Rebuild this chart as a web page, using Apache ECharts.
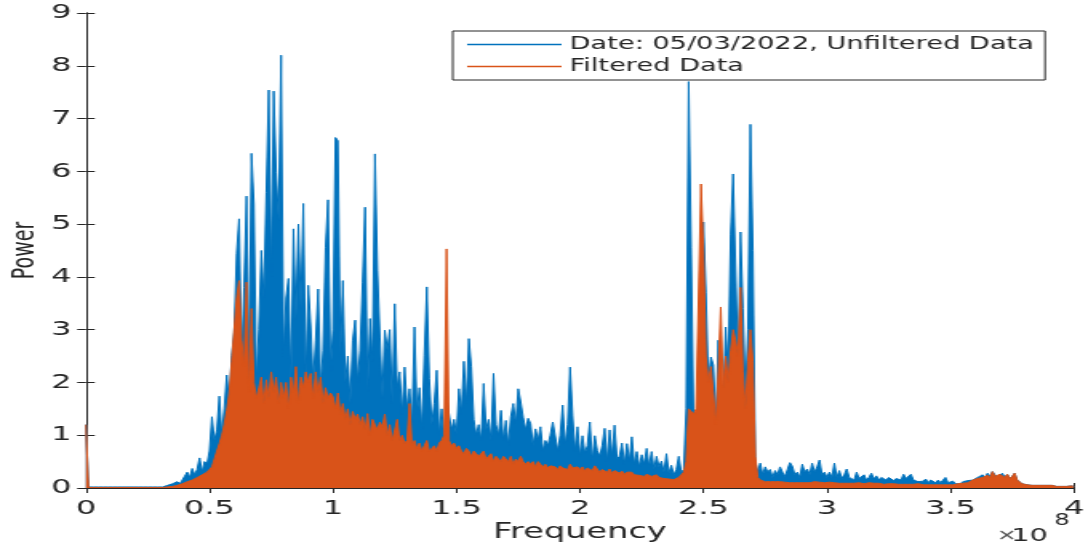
<!DOCTYPE html>
<html>
<head>
<meta charset="utf-8">
<script src="https://cdn.jsdelivr.net/npm/echarts@6/dist/echarts.min.js"></script>
<style>
  html, body { margin: 0; padding: 0; background: #fff; overflow: hidden; }
  /* the figure is laid out narrow and widened horizontally, like the exported plot */
  #chart { width: 678px; height: 553px; transform: scaleX(1.6); transform-origin: 0 0; }
</style>
</head>
<body>
<div id="chart"></div>
<script>
// Power spectrum sampled every 1 MHz from 0 to 400 MHz (401 bins, 10 bins per row)
const FREQ_STEP_HZ = 1e6;

const unfilteredPower = [
  1.2, 0.02, 0.01, 0.02, 0.01, 0.02, 0.01, 0.02, 0.01, 0.02,
  0.01, 0.02, 0.01, 0.02, 0.01, 0.02, 0.01, 0.02, 0.01, 0.02,
  0.01, 0.02, 0.01, 0.02, 0.01, 0.02, 0.01, 0.02, 0.01, 0.02,
  0.02, 0.02, 0.03, 0.05, 0.04, 0.08, 0.06, 0.12, 0.08, 0.15,
  0.12, 0.3, 0.2, 0.37, 0.25, 0.35, 0.57, 0.3, 0.5, 0.45,
  0.7, 1.35, 0.9, 1.1, 1.74, 1.0, 1.5, 2.14, 1.6, 2.51,
  2.95, 4.44, 5.1, 2.4, 3.8, 5.53, 2.2, 6.34, 5.38, 2.0,
  3.0, 4.5, 3.6, 5.6, 7.54, 4.0, 7.52, 5.98, 5.07, 8.2,
  2.5, 3.6, 3.97, 1.9, 4.91, 3.2, 5.0, 3.4, 5.39, 2.0,
  3.84, 3.05, 2.0, 2.8, 3.77, 1.9, 2.6, 4.56, 5.46, 2.2,
  3.0, 6.64, 6.58, 2.5, 3.93, 2.0, 2.5, 1.6, 2.8, 3.18,
  2.0, 2.6, 3.9, 5.32, 1.8, 3.21, 2.4, 6.33, 4.12, 2.86,
  1.7, 2.99, 2.61, 3.0, 1.6, 3.49, 1.9, 2.2, 1.4, 2.29,
  1.5, 1.88, 1.2, 3.05, 1.4, 1.9, 1.1, 2.51, 3.81, 2.07,
  1.2, 1.6, 2.23, 1.0, 1.5, 0.9, 1.69, 1.72, 1.1, 1.3,
  1.0, 1.88, 1.4, 2.4, 1.6, 2.83, 2.3, 1.3, 1.0, 1.2,
  0.9, 1.98, 1.1, 1.3, 0.9, 2.17, 1.2, 1.0, 1.47, 0.9,
  1.28, 0.8, 1.35, 1.6, 1.2, 1.88, 1.63, 1.34, 1.1, 1.32,
  1.22, 0.8, 1.12, 0.9, 1.16, 0.7, 0.9, 0.8, 1.0, 1.25,
  1.22, 0.7, 1.0, 1.57, 0.8, 1.2, 2.29, 1.38, 0.7, 1.16,
  0.6, 0.99, 0.66, 0.8, 1.25, 0.5, 0.99, 0.71, 0.6, 0.8,
  1.13, 0.5, 1.1, 0.6, 1.19, 0.55, 0.6, 0.85, 0.45, 0.84,
  0.5, 0.97, 0.45, 0.69, 0.4, 0.63, 0.45, 0.75, 0.4, 0.69,
  0.35, 0.6, 0.4, 0.51, 0.3, 0.65, 0.28, 0.43, 0.25, 0.35,
  0.6, 0.3, 0.35, 1.5, 7.7, 4.56, 1.3, 1.2, 1.5, 3.62,
  5.04, 3.71, 2.0, 2.48, 2.33, 1.16, 2.8, 1.8, 1.6, 3.05,
  2.2, 4.81, 5.95, 5.92, 2.3, 4.85, 3.4, 1.8, 3.0, 6.89,
  4.5, 0.5, 0.3, 0.47, 0.25, 0.4, 0.3, 0.35, 0.2, 0.33,
  0.25, 0.4, 0.3, 0.22, 0.35, 0.48, 0.41, 0.25, 0.3, 0.2,
  0.45, 0.3, 0.36, 0.25, 0.47, 0.3, 0.4, 0.53, 0.25, 0.3,
  0.2, 0.3, 0.2, 0.47, 0.2, 0.33, 0.18, 0.25, 0.36, 0.2,
  0.23, 0.15, 0.3, 0.18, 0.2, 0.25, 0.15, 0.2, 0.28, 0.17,
  0.23, 0.15, 0.2, 0.22, 0.15, 0.2, 0.23, 0.14, 0.18, 0.2,
  0.15, 0.26, 0.18, 0.2, 0.26, 0.15, 0.17, 0.12, 0.15, 0.13,
  0.17, 0.1, 0.15, 0.12, 0.1, 0.15, 0.1, 0.12, 0.2, 0.1,
  0.1, 0.13, 0.08, 0.1, 0.08, 0.12, 0.1, 0.14, 0.12, 0.15,
  0.15, 0.2, 0.18, 0.25, 0.2, 0.28, 0.22, 0.31, 0.25, 0.2,
  0.22, 0.28, 0.2, 0.26, 0.18, 0.22, 0.28, 0.15, 0.12, 0.08,
  0.08, 0.06, 0.07, 0.05, 0.06, 0.05, 0.06, 0.05, 0.04, 0.05,
  0.04, 0.05, 0.04, 0.03, 0.04, 0.03, 0.04, 0.03, 0.03, 0.04,
  0.03
];

const filteredPower = [
  1.2, 0.01, 0.01, 0.01, 0.01, 0.01, 0.01, 0.01, 0.01, 0.01,
  0.01, 0.01, 0.01, 0.01, 0.01, 0.01, 0.01, 0.01, 0.01, 0.01,
  0.01, 0.01, 0.01, 0.01, 0.01, 0.01, 0.01, 0.01, 0.01, 0.01,
  0.01, 0.01, 0.02, 0.02, 0.03, 0.03, 0.04, 0.05, 0.06, 0.08,
  0.1, 0.12, 0.14, 0.15, 0.18, 0.2, 0.22, 0.25, 0.28, 0.3,
  0.32, 0.4, 0.55, 0.7, 0.84, 1.0, 1.2, 1.47, 1.8, 2.4,
  3.0, 3.6, 3.93, 2.8, 2.3, 3.9, 1.8, 3.4, 2.0, 1.7,
  1.9, 2.1, 1.6, 2.05, 1.7, 2.2, 1.8, 2.1, 1.6, 2.0,
  1.7, 2.0, 1.5, 2.1, 1.8, 2.3, 1.6, 2.1, 1.9, 2.2,
  2.0, 2.17, 1.7, 2.2, 1.8, 2.1, 1.6, 1.9, 1.7, 1.8,
  1.73, 1.5, 1.8, 1.4, 1.6, 1.3, 1.5, 1.2, 1.45, 1.3,
  1.4, 1.2, 1.35, 1.1, 1.41, 1.0, 1.3, 1.2, 1.1, 1.25,
  1.15, 1.4, 1.0, 1.2, 0.9, 1.1, 1.3, 0.9, 1.0, 0.85,
  0.9, 1.6, 0.8, 0.9, 0.75, 0.85, 0.7, 0.8, 0.9, 0.7,
  0.75, 0.8, 0.7, 0.85, 0.9, 1.0, 4.53, 0.9, 0.8, 0.85,
  0.75, 0.8, 0.7, 0.65, 0.75, 0.7, 0.6, 0.7, 0.65, 0.6,
  0.6, 0.7, 0.55, 0.6, 0.65, 0.5, 0.6, 0.55, 0.5, 0.6,
  0.55, 0.5, 0.6, 0.45, 0.55, 0.5, 0.6, 0.5, 0.45, 0.5,
  0.45, 0.5, 0.4, 0.5, 0.45, 0.4, 0.45, 0.38, 0.42, 0.4,
  0.4, 0.35, 0.42, 0.38, 0.4, 0.35, 0.45, 0.38, 0.35, 0.4,
  0.35, 0.4, 0.32, 0.38, 0.4, 0.33, 0.42, 0.36, 0.3, 0.35,
  0.32, 0.3, 0.36, 0.28, 0.33, 0.3, 0.28, 0.32, 0.26, 0.3,
  0.28, 0.3, 0.25, 0.28, 0.24, 0.27, 0.22, 0.26, 0.24, 0.22,
  0.22, 0.25, 0.2, 0.22, 0.18, 0.2, 0.17, 0.19, 0.16, 0.18,
  0.2, 0.22, 0.3, 0.5, 1.5, 1.5, 1.4, 1.5, 3.6, 5.76,
  4.5, 2.5, 2.0, 2.3, 1.8, 1.2, 2.2, 3.43, 1.9, 2.5,
  2.0, 2.6, 3.0, 2.8, 2.5, 3.8, 2.2, 1.5, 2.4, 3.0,
  2.4, 0.6, 0.2, 0.15, 0.13, 0.12, 0.11, 0.12, 0.1, 0.12,
  0.11, 0.12, 0.1, 0.11, 0.12, 0.1, 0.11, 0.1, 0.12, 0.1,
  0.11, 0.1, 0.12, 0.1, 0.11, 0.12, 0.1, 0.11, 0.1, 0.1,
  0.1, 0.11, 0.09, 0.1, 0.11, 0.09, 0.1, 0.09, 0.1, 0.09,
  0.1, 0.09, 0.08, 0.1, 0.09, 0.08, 0.09, 0.1, 0.08, 0.09,
  0.08, 0.09, 0.08, 0.07, 0.09, 0.08, 0.07, 0.08, 0.09, 0.07,
  0.08, 0.07, 0.08, 0.07, 0.08, 0.07, 0.06, 0.08, 0.07, 0.06,
  0.07, 0.06, 0.07, 0.06, 0.07, 0.06, 0.07, 0.06, 0.08, 0.06,
  0.07, 0.06, 0.07, 0.08, 0.07, 0.09, 0.08, 0.1, 0.12, 0.15,
  0.14, 0.18, 0.15, 0.2, 0.17, 0.24, 0.2, 0.31, 0.22, 0.2,
  0.26, 0.28, 0.2, 0.26, 0.18, 0.22, 0.28, 0.15, 0.12, 0.08,
  0.07, 0.06, 0.06, 0.05, 0.06, 0.05, 0.05, 0.05, 0.04, 0.05,
  0.04, 0.05, 0.04, 0.03, 0.04, 0.03, 0.04, 0.03, 0.03, 0.04,
  0.03
];

const xTickLabels = ['0', '0.5', '1', '1.5', '2', '2.5', '3', '3.5', '4'];
const yTickLabels = ['0', '1', '2', '3', '4', '5', '6', '7', '8', '9'];
const seriesNames = ['Date: 05/03/2022, Unfiltered Data', 'Filtered Data'];

const FONT = '"DejaVu Sans", sans-serif';
const INK = '#262626';
const BLUE = '#0072BD';
const ORANGE = '#D95319';

function toPoints(values) {
  return values.map((v, i) => [i * FREQ_STEP_HZ, v]);
}

const chart = echarts.init(document.getElementById('chart'), null, { renderer: 'canvas' });

const axisCommon = {
  min: 0,
  axisLine: { show: true, lineStyle: { color: INK, width: 1 } },
  splitLine: { show: false }
};

chart.setOption({
  animation: false,
  backgroundColor: '#ffffff',
  grid: { left: 53.75, right: 6.75, top: 13, bottom: 65, containLabel: false, outerBoundsMode: 'none' },
  legend: {
    orient: 'vertical',
    left: 283,
    top: 31,
    padding: [5, 7, 5, 9],
    itemGap: 5,
    itemWidth: 59,
    itemHeight: 1.5,
    icon: 'rect',
    backgroundColor: '#ffffff',
    borderColor: INK,
    borderWidth: 1,
    borderRadius: 0,
    textStyle: { fontFamily: FONT, fontSize: 17, color: INK, lineHeight: 17 },
    data: seriesNames
  },
  xAxis: [
    Object.assign({}, axisCommon, {
      type: 'value',
      max: 4e8,
      interval: 5e7,
      position: 'bottom',
      name: 'Frequency',
      nameLocation: 'middle',
      nameGap: 34,
      nameMoveOverlap: false,
      nameTextStyle: { fontFamily: FONT, fontSize: 21, color: INK },
      axisTick: { show: true, inside: true, length: 5, lineStyle: { color: INK } },
      axisLabel: {
        margin: 11,
        fontFamily: FONT,
        fontSize: 20,
        color: INK,
        formatter: (v) => xTickLabels[Math.round(v / 5e7)]
      }
    }),
    Object.assign({}, axisCommon, {
      type: 'value',
      max: 4e8,
      interval: 5e7,
      position: 'top',
      axisTick: { show: true, inside: true, length: 5, lineStyle: { color: INK } },
      axisLabel: { show: false }
    })
  ],
  yAxis: [
    Object.assign({}, axisCommon, {
      type: 'value',
      max: 9,
      interval: 1,
      position: 'left',
      name: 'Power',
      nameLocation: 'middle',
      nameGap: 28,
      nameMoveOverlap: false,
      nameTextStyle: { fontFamily: FONT, fontSize: 19, color: INK },
      axisTick: { show: true, inside: true, length: 5.5, lineStyle: { color: INK } },
      axisLabel: {
        margin: 9,
        fontFamily: FONT,
        fontSize: 20,
        color: INK,
        formatter: (v) => yTickLabels[Math.round(v)]
      }
    }),
    Object.assign({}, axisCommon, {
      type: 'value',
      max: 9,
      interval: 1,
      position: 'right',
      axisTick: { show: true, inside: true, length: 5.5, lineStyle: { color: INK } },
      axisLabel: { show: false }
    })
  ],
  series: [
    {
      name: seriesNames[0],
      type: 'line',
      xAxisIndex: 0,
      yAxisIndex: 0,
      data: toPoints(unfilteredPower),
      symbol: 'none',
      sampling: null,
      clip: true,
      z: 2,
      color: BLUE,
      lineStyle: { width: 1, color: BLUE },
      areaStyle: { color: BLUE, opacity: 1, origin: 'start' }
    },
    {
      name: seriesNames[1],
      type: 'line',
      xAxisIndex: 0,
      yAxisIndex: 0,
      data: toPoints(filteredPower),
      symbol: 'none',
      sampling: null,
      clip: true,
      z: 3,
      color: ORANGE,
      lineStyle: { width: 1, color: ORANGE },
      areaStyle: { color: ORANGE, opacity: 1, origin: 'start' }
    }
  ],
  graphic: [
    {
      type: 'text',
      left: 623,
      top: 529,
      style: { text: '\u00d7', font: '15px ' + FONT, fill: '#555555' }
    },
    {
      type: 'text',
      left: 632,
      top: 527,
      style: { text: '10', font: '18px ' + FONT, fill: INK }
    },
    {
      type: 'text',
      left: 659,
      top: 514,
      style: { text: '8', font: '15px ' + FONT, fill: INK }
    }
  ]
});
</script>
</body>
</html>
